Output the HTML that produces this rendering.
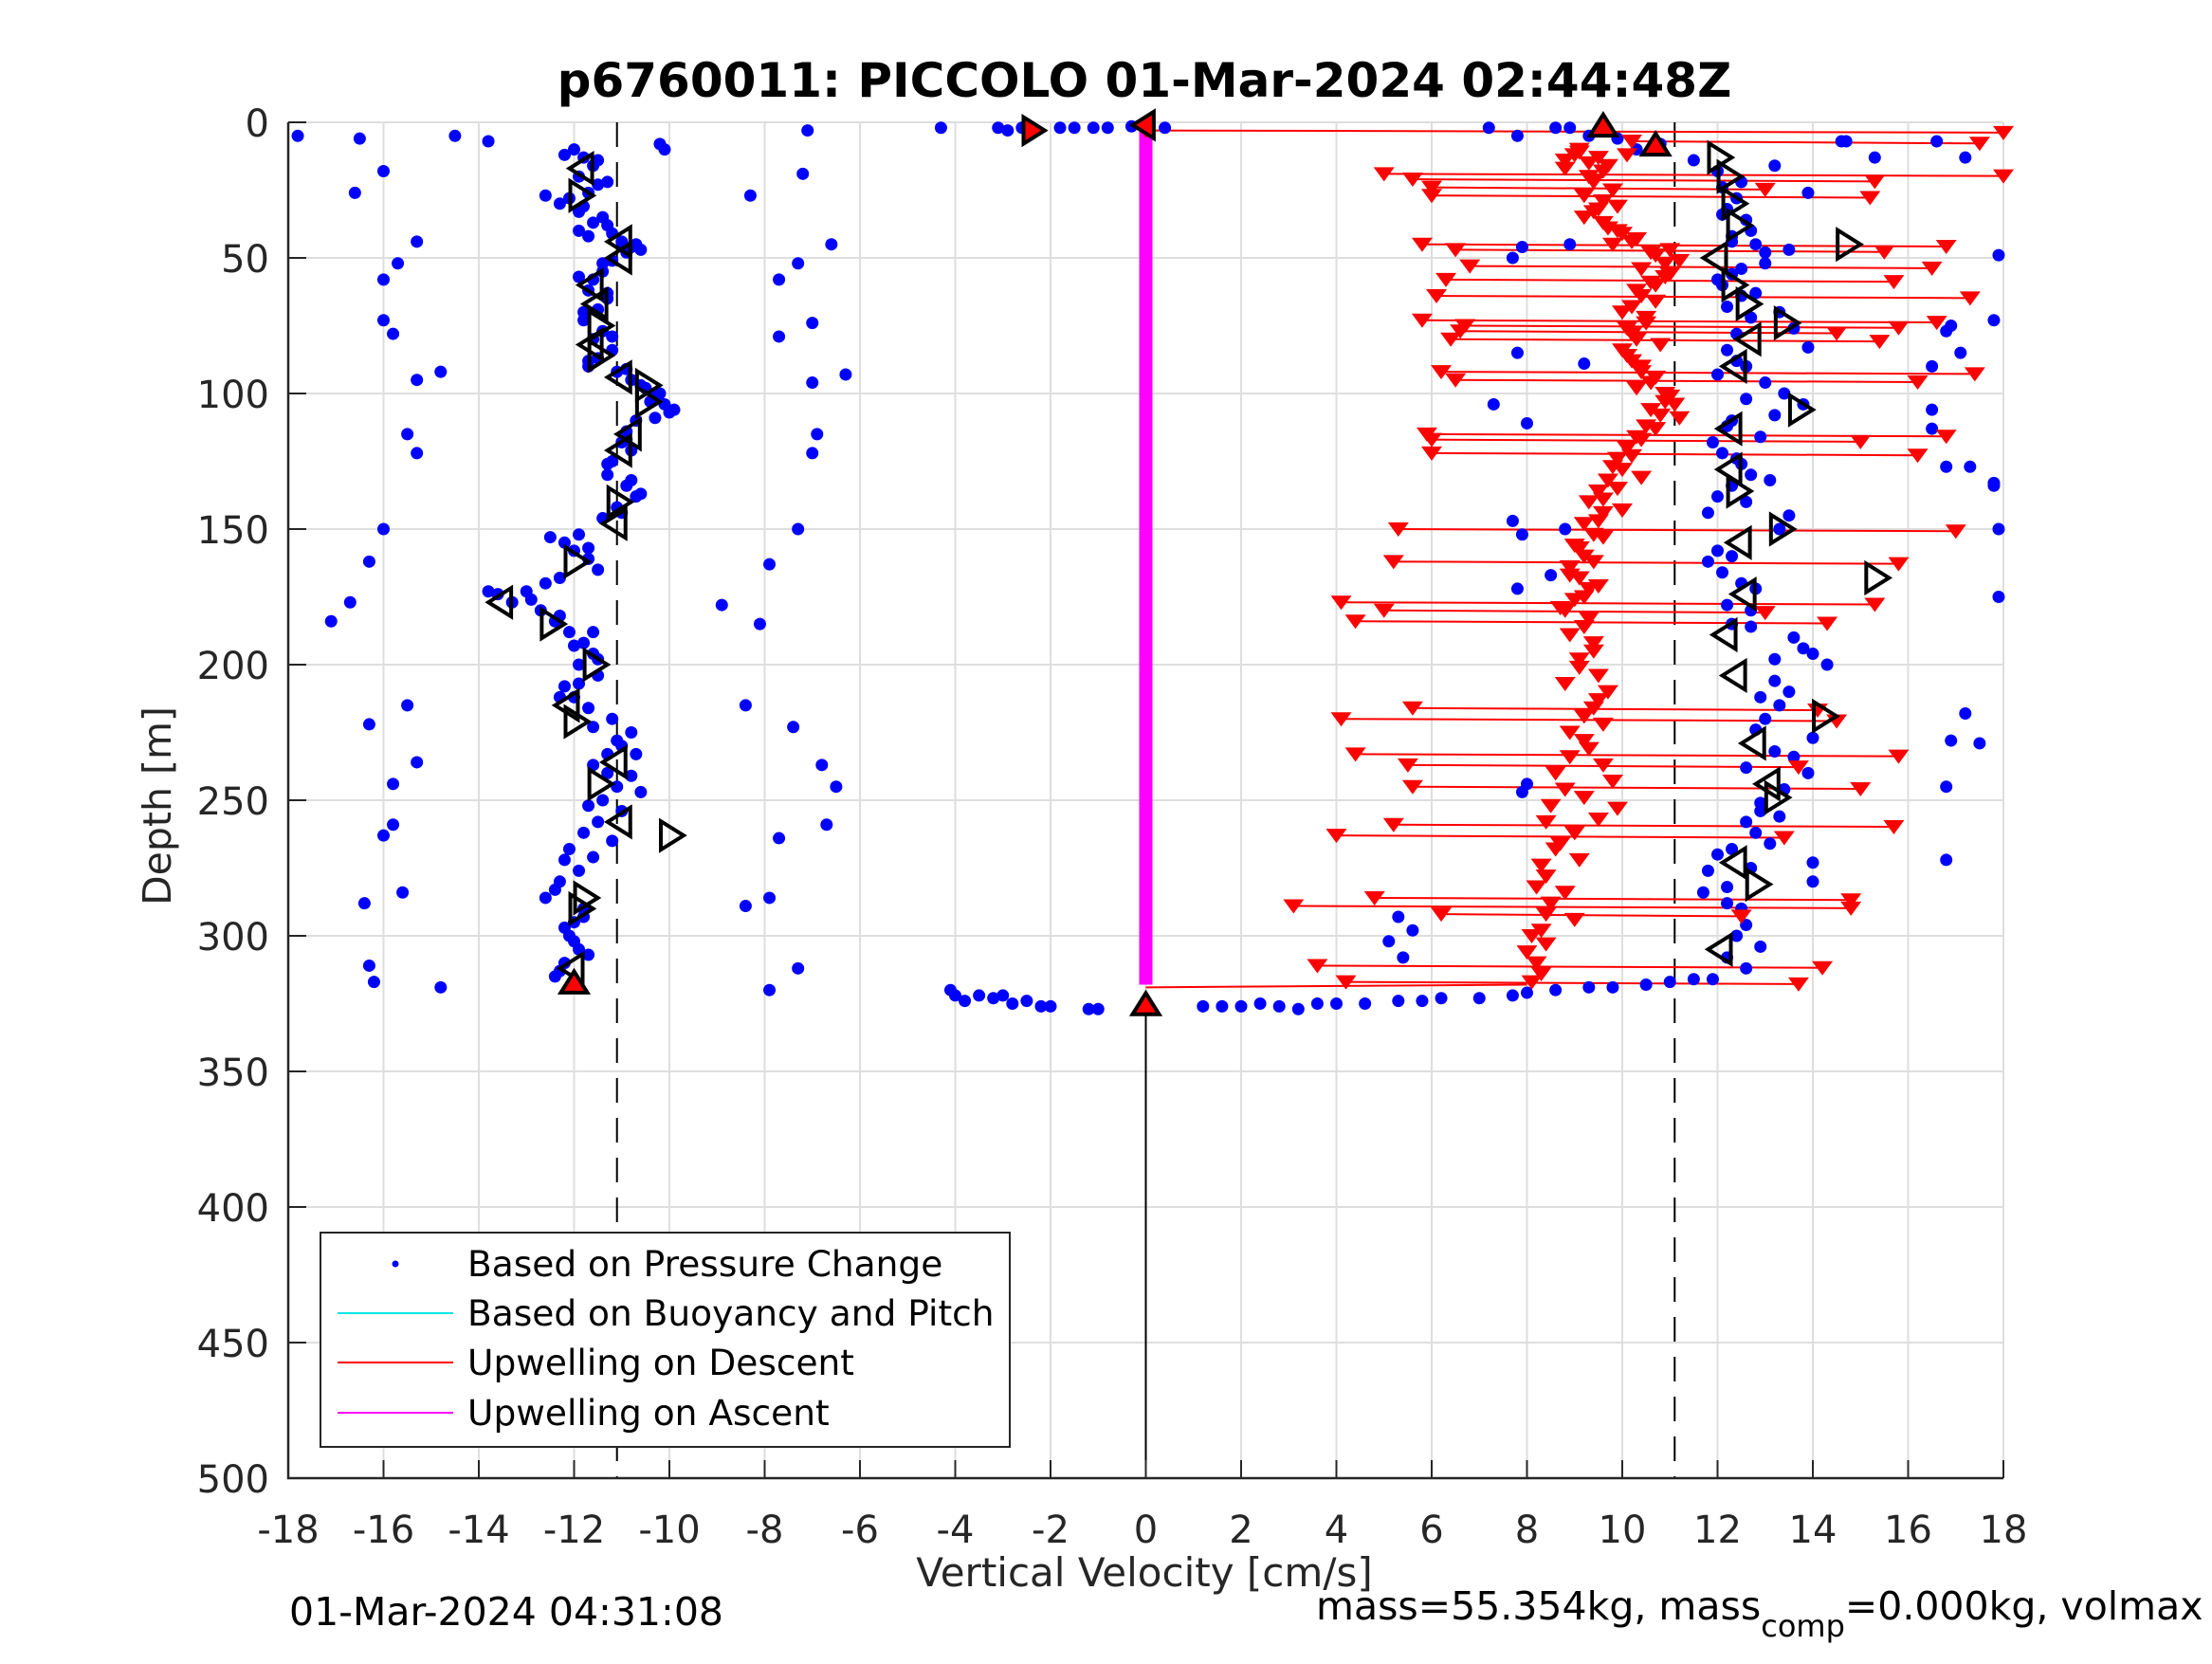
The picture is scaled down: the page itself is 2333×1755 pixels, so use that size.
<!DOCTYPE html>
<html><head><meta charset="utf-8"><style>
html,body{margin:0;padding:0;background:#fff}
svg text{font-family:"DejaVu Sans","Liberation Sans",sans-serif}
</style></head><body>
<svg id="chart" xmlns="http://www.w3.org/2000/svg" width="2333" height="1750" viewBox="0 0 2333 1750">
<rect width="2333" height="1750" fill="#fff"/>
<g id="grid"></g>
<g id="marks"></g>
<g id="axes"></g>
<text x="1207" y="102" text-anchor="middle" font-size="50" font-weight="bold" fill="#000">p6760011: PICCOLO 01-Mar-2024 02:44:48Z</text>
<text transform="translate(180,850) rotate(-90)" text-anchor="middle" font-size="41" fill="#262626">Depth [m]</text>
<text x="1207" y="1673" text-anchor="middle" font-size="42" fill="#262626">Vertical Velocity [cm/s]</text>
<text x="305" y="1714" font-size="41" fill="#000">01-Mar-2024 04:31:08</text>
<text x="1388" y="1708" font-size="41" fill="#000">mass=55.354kg, mass<tspan font-size="32" dy="18">comp</tspan><tspan dy="-18">=0.000kg, volmax</tspan></text>
<g>
<rect x="338" y="1300" width="727" height="226" fill="#fff" stroke="#262626" stroke-width="2"/>
<circle cx="417" cy="1333" r="3.5" fill="#00f"/>
<text x="493" y="1346" font-size="37.5" fill="#000">Based on Pressure Change</text>
<line x1="356" y1="1385" x2="478" y2="1385" stroke="#00e5e5" stroke-width="2"/>
<text x="493" y="1398" font-size="37.5" fill="#000">Based on Buoyancy and Pitch</text>
<line x1="356" y1="1437" x2="478" y2="1437" stroke="#f00" stroke-width="2"/>
<text x="493" y="1450" font-size="37.5" fill="#000">Upwelling on Descent</text>
<line x1="356" y1="1490" x2="478" y2="1490" stroke="#f0f" stroke-width="2"/>
<text x="493" y="1503" font-size="37.5" fill="#000">Upwelling on Ascent</text>
</g>
</svg>
<script>
const xTicks=[-18,-16,-14,-12,-10,-8,-6,-4,-2,0,2,4,6,8,10,12,14,16,18];
const yTicks=[0,50,100,150,200,250,300,350,400,450,500];
const dashedVel=[-11.1,11.1];
// blue pressure-change points: velocity & depth
const blueVel=[-12,-11.8,-11.6,-11.9,-11.5,-11.7,-12.1,-11.8,-11.4,-11.6,-12.6,-11.9,-11.7,-11.3,-11,-10.8,-10.9,-11.2,-10.6,-11.4,-11.6,-11.7,-11.3,-11.5,-11.8,-11.4,-11.6,-11.2,-11.5,-11.7,-11.1,-10.8,-10.5,-10.3,-10.1,-10,-10.4,-10.7,-10.9,-11,-10.8,-11.2,-11.3,-10.9,-10.7,-11.1,-11.4,-11.9,-12.2,-12,-11.7,-11.5,-12.6,-13,-13.6,-13.3,-12.7,-12.4,-12.1,-11.8,-11.6,-11.9,-11.5,-12.2,-12,-11.7,-11.2,-10.8,-11,-11.3,-11.6,-10.8,-11.1,-11.4,-11,-11.5,-11.8,-12.1,-12.2,-11.9,-12.3,-12.6,-11.8,-12,-12.1,-11.9,-12.2,-12.4,
-12.2,-11.5,-11.3,-12.3,-11.9,-11.2,-10.7,-11.4,-11.9,-11.3,-11.8,-11.2,-11.7,-10.9,-10.6,-10.2,-9.9,-10.3,-10.9,-11.3,-10.8,-10.6,-11,-12.5,-11.7,-12.3,-13.8,-12.9,-12.3,-11.6,-12,-11.5,-11.9,-12.3,-11.6,-11.1,-10.7,-11.3,-10.6,-11.7,-11.2,-11.6,-12.4,-11.8,-12.2,-12,-11.7,-12.3,
-17.8,-16.5,-14.5,-13.8,-16,-16.6,-15.3,-15.7,-16,-16,-15.8,-15.3,-14.8,-15.5,-15.3,-16,-16.3,-16.7,-17.1,-15.5,-16.3,-15.3,-15.8,-15.8,-16,-15.6,-16.4,-16.3,-16.2,-14.8,-10.2,-10.1,-7.1,-7.2,-8.3,-7.3,-6.6,-7.7,-7,-7.7,-6.3,-7,-6.9,-7,-7.3,-7.9,-8.9,-8.1,-8.4,-7.4,-6.8,-6.5,-6.7,-7.7,-7.9,-8.4,-7.3,-7.9,
-4.3,-3.1,-2.9,-2.6,-1.8,-1.5,-1.1,-0.8,-0.3,0.4,
-4.1,-4,-3.8,-3.5,-3.2,-3,-2.8,-2.5,-2.2,-2,-1.2,-1,1.2,1.6,2,2.4,2.8,3.2,3.6,4,4.6,5.3,5.8,6.2,7,7.7,8,8.6,9.3,9.8,10.5,11,11.5,11.9,
9.3,9.6,9.9,10.3,10.8,11.5,12,12.1,12.4,12.2,12.6,12.3,12.8,13.5,13,12.3,12.1,12.5,12.2,12.7,12.4,12.2,12.6,13,13.4,13.8,13.2,12.2,11.9,12.1,12.5,12.7,12.3,12.6,13.5,13.3,12,11.8,12.1,12.5,12.7,12.3,13.6,14,14.3,13.2,13.5,13,12.8,13.6,13.9,13.4,12.9,12.6,12.8,13.1,12,11.8,12.2,12.5,12.6,
12.4,12.9,12.2,12.6,13.2,12.5,13.9,12.1,12.7,12.3,13,12.5,12,12.8,13.3,13.6,13.9,12.4,12,12.6,12.3,12.9,12.4,13.1,12,11.8,12.3,12.8,12.2,12.7,13.8,13.2,12.9,13.3,14,13.2,12.6,12.9,13.3,12.3,12.7,11.7,12.2,
5.3,5.6,5.1,5.4,7.2,8.6,14.7,14.6,15.3,7.8,8.9,16.6,17.2,7.7,7.9,8.9,17.9,17.1,16.5,16.9,16.8,17.8,7.8,9.2,7.3,8,16.5,16.5,16.8,17.8,17.3,17.8,7.7,8.8,8.5,7.8,7.9,17.9,17.9,17.5,16.8,17.2,16.9,8,7.9,16.8,14,14];
const blueDepth=[10,13,16,20,23,26,28,31,35,37,27,40,42,38,44,46,48,51,47,55,58,62,65,69,73,77,80,84,87,90,92,95,98,101,104,107,103,110,114,118,121,125,130,134,138,142,146,152,155,158,161,165,170,173,174,177,180,184,188,192,196,200,204,208,212,216,220,225,230,233,237,241,245,250,254,258,262,268,272,276,280,286,290,295,300,305,310,315,
12,14,22,30,33,41,45,52,57,63,70,79,88,91,97,100,106,109,117,126,132,137,144,153,157,168,173,176,182,188,193,198,207,212,223,228,233,240,247,252,265,271,283,293,297,302,307,313,
5,6,5,7,18,26,44,52,58,73,78,95,92,115,122,150,162,177,184,215,222,236,244,259,263,284,288,311,317,319,8,10,3,19,27,52,45,58,74,79,93,96,115,122,150,163,178,185,215,223,237,245,259,264,286,289,312,320,
2,2,3,2,2,2,2,2,1.5,2,
320,322,324,322,323,322,325,324,326,326,327,327,326,326,326,325,326,327,325,325,325,324,324,323,323,322,321,320,319,319,318,317,316,316,
5,3,6,10,8,14,18,24,28,32,36,42,45,47,52,56,60,64,68,72,78,84,90,96,100,104,108,112,118,122,126,130,134,140,145,150,158,162,166,170,180,185,190,196,200,206,210,220,224,234,240,246,254,258,262,266,270,276,282,290,296,300,304,308,312,
16,22,26,34,40,44,48,54,58,63,70,76,83,88,93,102,110,116,124,132,138,144,160,172,178,186,194,198,212,215,227,232,238,251,256,268,275,284,288,293,298,302,308,
2,2,7,7,13,5,2,7,13,50,46,45,49,85,90,75,77,73,85,89,104,111,113,106,127,134,127,133,147,150,167,172,152,150,175,229,245,218,228,244,247,272,280,273,305,304,310,313];
// red "upwelling on descent" triangle cluster
const redVel=[9,9.3,9.6,9.1,8.8,9.4,9.8,9.5,9.2,9.6,9.9,10.2,10.6,10.9,11,10.7,10.4,10.2,10.5,10.1,10.3,10,10.2,10.4,10.6,10.9,11.1,10.8,10.5,10.3,10.1,9.9,10,9.7,9.5,9.3,9.6,9.2,9.4,9,9.2,8.9,9.1,9.3,9,8.8,9.2,9.4,9.1,9.5,9.7,9.4,9.6,9.2,8.9,8.6,8.8,8.5,8.4,8.7,8.3,8.2,8.4,8.1,8.2,
9.1,9.5,8.8,9.7,10.1,9.3,9.2,9.6,9.9,9.4,9.7,10,10.3,9.8,11,10.7,11.2,10.4,10.9,10.6,10.3,10.7,10,10.5,10.2,10.8,10.1,10.4,10.7,10.3,11,10.9,10.6,11.2,10.7,10.4,10.2,9.8,10.4,9.9,9.6,10,9.5,9.6,9.1,9.4,8.9,9.5,9.2,8.7,9.3,8.9,9.4,9.1,8.8,9.5,9.2,8.9,9.3,9.6,9.8,9.2,9.9,9.5,9,8.6,9.1,8.4,8.8,8.5,9,8.3,8.4,8,8.3,8.1];
const redDepth=[12,15,18,10,14,22,25,32,35,37,40,44,48,52,56,60,64,68,72,76,80,84,88,92,96,100,104,108,112,116,120,124,128,132,136,140,144,148,152,156,160,164,168,172,176,180,186,192,198,204,210,216,222,228,234,240,246,252,258,266,274,282,292,300,310,
11,13,17,16,12,20,27,29,31,33,39,41,43,45,47,49,51,54,57,59,62,66,70,74,78,82,86,90,94,98,101,103,106,109,113,117,123,127,131,135,139,143,147,153,157,162,167,171,175,179,183,189,195,201,207,213,219,225,231,237,243,249,253,257,262,268,272,278,284,288,294,298,303,306,314,317];
// red spikes: depth, left & right velocity ends
const spikeDepth=[3,7,19,21,24,27,45,47,53,58,64,73,75,77,80,92,95,115,117,122,150,162,177,180,184,216,220,233,237,245,259,263,286,289,292,311,317];
const spikeLeft=[0,10.2,5,5.6,6,6,5.8,6.5,6.8,6.3,6.1,5.8,6.7,6.6,6.4,6.2,6.5,5.9,6,6,5.3,5.2,4.1,5,4.4,5.6,4.1,4.4,5.5,5.6,5.2,4,4.8,3.1,6.2,3.6,4.2];
const spikeRight=[18,17.5,18,15.3,13,15.2,16.8,15.5,16.5,15.7,17.3,16.6,15.8,14.5,15.4,17.4,16.2,16.8,15,16.2,17,15.8,15.3,13,14.3,14.1,14.5,15.8,13.7,15,15.7,13.4,14.8,14.8,12.5,14.2,13.7];
// open black triangle markers
const triVel=[-11.8,-11.9,-11,-11,-11.6,-11.5,-11.5,-11.6,-11.5,-11,-10.5,-10.5,-10.8,-11,-11.1,-11.1,-12,-13.5,-12.5,-11.6,-12.1,-12,-11.1,-11.5,-11,-10,-11.8,-11.9,-12,
12,12.2,12.3,12.4,14.7,12,12.3,12.6,13.4,12.7,12.4,13.7,12.3,12.3,12.4,13.3,12.5,15.3,12.6,12.2,12.4,14.2,12.8,13.1,13.2,12.4,12.8,12.1];
const triDepth=[17,27,44,50,60,67,75,82,86,94,97,103,115,121,140,148,162,177,185,200,215,221,236,244,258,263,286,290,312,
13,20,30,38,45,50,60,67,74,80,90,106,113,128,136,150,155,168,174,189,204,219,229,244,249,273,281,305];
const triDir=['<','>','<','<','<','<','>','<','>','<','>','>','<','<','>','<','>','<','>','>','<','>','<','>','<','>','>','>','<',
'>','>','>','>','>','<','>','>','>','<','<','>','<','<','>','>','<','>','<','<','<','>','<','<','>','<','>','<'];
// red-filled outlined markers
const fillVel=[-2.4,0,9.6,10.7,-12,0];
const fillDepth=[3,1,2,9,318,326];
const fillDir=['>','<','^','^','^','^'];
const ascentTop=2, ascentBottom=318, bottomDepth=327;

const NS='http://www.w3.org/2000/svg';
const L=304,R=2113,T=129,B=1559;
const X=v=>L+(v+18)*(R-L)/36;
const Y=d=>T+d*(B-T)/500;
function mk(tag,attrs,parent){const e=document.createElementNS(NS,tag);for(const k in attrs)e.setAttribute(k,attrs[k]);parent.appendChild(e);return e;}
const grid=document.getElementById('grid'),marks=document.getElementById('marks'),axes=document.getElementById('axes');
xTicks.forEach(v=>{const l=mk('line',{x1:X(v),x2:X(v),y1:T,y2:B,stroke:'#dedede','stroke-width':2},grid);


const tk=mk('line',{x1:X(v),x2:X(v),y1:B,y2:B-19,stroke:'#262626','stroke-width':2},axes);


const t=mk('text',{x:X(v),y:B+68,'text-anchor':'middle','font-size':40,fill:'#262626'},axes);t.textContent=v;

});
yTicks.forEach(d=>{const l=mk('line',{x1:L,x2:R,y1:Y(d),y2:Y(d),stroke:'#dedede','stroke-width':2},grid);


const tk=mk('line',{x1:L,x2:L+19,y1:Y(d),y2:Y(d),stroke:'#262626','stroke-width':2},axes);


const t=mk('text',{x:L-20,y:Y(d)+15,'text-anchor':'end','font-size':40,fill:'#262626'},axes);t.textContent=d;

});
const ax=mk('path',{d:`M${L},${T}V${B}H${R}`,fill:'none',stroke:'#262626','stroke-width':2.5},axes);


dashedVel.forEach(v=>{const l=mk('line',{x1:X(v),x2:X(v),y1:T,y2:B,stroke:'#000','stroke-width':2,'stroke-dasharray':'26,16'},marks);

});
const zl=mk('line',{x1:X(0),x2:X(0),y1:Y(bottomDepth),y2:B,stroke:'#000','stroke-width':2},marks);


spikeDepth.forEach((d,i)=>{const l=mk('line',{x1:X(spikeLeft[i]),y1:Y(d),x2:X(spikeRight[i]),y2:Y(d+0.8),stroke:'#f00','stroke-width':2},marks);

});
const bl=mk('line',{x1:X(0),y1:Y(319),x2:X(8),y2:Y(318),stroke:'#f00','stroke-width':2},marks);


const mg=mk('line',{x1:X(0),x2:X(0),y1:Y(ascentTop),y2:Y(ascentBottom),stroke:'#f0f','stroke-width':14},marks);


blueVel.forEach((v,i)=>{const c=mk('circle',{cx:X(v),cy:Y(blueDepth[i]),r:6.5,fill:'#00f'},marks);

});
function tdown(x,y){return `${x-11},${y-7} ${x+11},${y-7} ${x},${y+8}`;}
const redPts=[];redVel.forEach((v,i)=>redPts.push([X(v),Y(redDepth[i])]));
spikeDepth.forEach((d,i)=>{redPts.push([X(spikeLeft[i]),Y(d)]);redPts.push([X(spikeRight[i]),Y(d+0.8)]);});
redPts.forEach(p=>{const t=mk('polygon',{points:tdown(p[0],p[1]),fill:'#f00'},marks);

});
function tri(x,y,dir,s){if(dir==='>')return `${x-s*0.6},${y-s} ${x+s},${y} ${x-s*0.6},${y+s}`;
if(dir==='<')return `${x+s*0.6},${y-s} ${x-s},${y} ${x+s*0.6},${y+s}`;
return `${x-s},${y+s*0.6} ${x+s},${y+s*0.6} ${x},${y-s}`;}
triVel.forEach((v,i)=>{const t=mk('polygon',{points:tri(X(v),Y(triDepth[i]),triDir[i],15),fill:'none',stroke:'#000','stroke-width':4},marks);

});
fillVel.forEach((v,i)=>{const t=mk('polygon',{points:tri(X(v),Y(fillDepth[i]),fillDir[i],14),fill:'#f00',stroke:'#000','stroke-width':4},marks);

});
</script>
</body></html>
